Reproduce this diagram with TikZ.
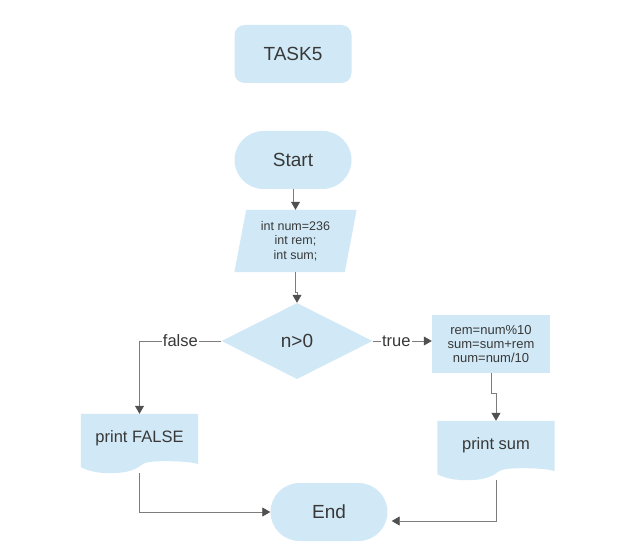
\documentclass[tikz,border=0pt]{standalone}
\usepackage{fontspec}
\setmainfont{Liberation Sans}
\usetikzlibrary{shapes.geometric, arrows.meta, calc, backgrounds}
\definecolor{boxblue}{RGB}{209,233,246}
\definecolor{textgray}{RGB}{56,56,56}
\definecolor{linegray}{RGB}{125,125,125}
\definecolor{tipgray}{RGB}{80,80,80}
\tikzstyle{box} = [rectangle, fill=boxblue, text=textgray, minimum width=117pt, minimum height=58pt, font=\fontsize{19}{22}\selectfont]
\tikzstyle{heading} = [box, rounded corners=10pt]
\tikzstyle{startstop} = [box, rounded corners=29pt]
\tikzstyle{io} = [trapezium, trapezium stretches=true, trapezium left angle=79, trapezium right angle=101, fill=boxblue, text=textgray, minimum width=123pt, minimum height=62pt, align=center, font=\fontsize{12.5}{14.5}\selectfont]
\tikzstyle{decision} = [diamond, fill=boxblue, text=textgray, minimum width=151pt, minimum height=76pt, font=\fontsize{19}{22}\selectfont]
\tikzstyle{process} = [box, minimum width=118pt, align=center, font=\fontsize{13}{14}\selectfont]
\tikzstyle{doc} = [rectangle, text=textgray, minimum width=117pt, minimum height=59pt, text height=12pt, text depth=14pt, font=\fontsize{16.5}{19}\selectfont]
\tikzstyle{arrow} = [line width=0.8pt, draw=linegray, -{Triangle[length=8pt,width=9pt,color=tipgray]}]
\tikzstyle{branch} = [fill=white, text=textgray, inner sep=1pt, font=\fontsize{16.5}{19}\selectfont]
% wavy bottom of a document node
\newcommand{\docfill}[1]{\fill[boxblue] (#1.north west) -- (#1.north east) -- ($(#1.south east)+(0,9)$)
  .. controls ($(#1.south west)+(112,11)$) and ($(#1.south west)+(100,12)$) .. ($(#1.south west)+(85,12)$)
  .. controls ($(#1.south west)+(70,12)$) and ($(#1.south west)+(63,11)$) .. ($(#1.south west)+(59,7)$)
  .. controls ($(#1.south west)+(52,2)$) and ($(#1.south west)+(42,0)$) .. ($(#1.south west)+(30,0)$)
  .. controls ($(#1.south west)+(20,0)$) and ($(#1.south west)+(10,1)$) .. ($(#1.south west)+(0,6)$) -- cycle;}

\begin{document}
\begin{tikzpicture}[x=1pt, y=1pt]
	\useasboundingbox (0,0) rectangle (618,547);
	\node (task) [heading] at (293,493) {TASK5};
	\node (start) [startstop] at (293,387) {Start};
	\node (input) [io] at (295.5,306) {int num=236\\int rem;\\int sum;};
	\node (dec) [decision] at (297,206) {n>0};
	\node (calc) [process] at (491,203) {rem=num\%10\\sum=sum+rem\\num=num/10};
	\node (pfalse) [doc] at (139.5,103.5) {print FALSE};
	\node (psum) [doc] at (496,96.5) {print sum};
	\node (end) [startstop] at (329,35) {End};
	\begin{scope}[on background layer]
		\docfill{pfalse}
		\docfill{psum}
	\end{scope}

	\draw [arrow] (start.south) -- ++(0,-14) -| (input.north);
	\draw [arrow] (input.south) -- ++(0,-20) -| (dec.north);
	\draw [arrow] (dec.west) -| (pfalse.north) node[branch, pos=0.25] {false};
	\draw [arrow] (dec.east) -- (dec.east -| calc.west) node[branch, pos=0.4] {true};
	\draw [arrow] (calc.south) -- ++(0,-20) -| (psum.north);
	\draw [arrow] (pfalse.south) |- (end.west);
	\draw [arrow] (psum.south) |- ($(end.east)+(4,-9)$);
\end{tikzpicture}
\end{document}
